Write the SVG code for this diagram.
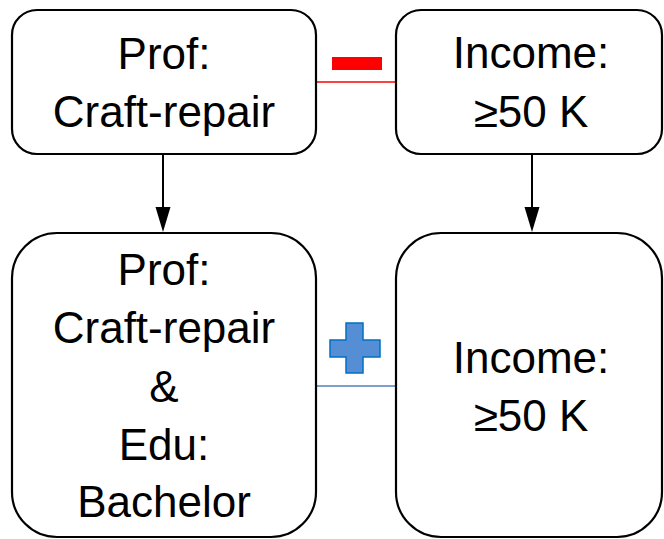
<svg xmlns="http://www.w3.org/2000/svg" width="664" height="539" viewBox="0 0 664 539">
<style>
.box{fill:#fff;stroke:#000;stroke-width:2.2}
.t{font-family:"Liberation Sans",Arial,sans-serif;font-size:44px;fill:#000;text-anchor:middle}
.arr{stroke:#000;stroke-width:2;fill:none}
</style>
<defs>
<marker id="ah" viewBox="0 0 16 25" refX="8" refY="25" markerWidth="16" markerHeight="25" markerUnits="userSpaceOnUse" orient="auto-start-reverse">
<path d="M0,0 L16,0 L8,25 Z" fill="#000"/>
</marker>
</defs>
<rect width="664" height="539" fill="#fff"/>
<g id="connectors">
<line class="arr" x1="163" y1="155" x2="163" y2="207"/>
<path d="M155.5,207 L170.5,207 L163,232 Z" fill="#000"/>
<line class="arr" x1="532" y1="155" x2="532" y2="207"/>
<path d="M524.5,207 L539.5,207 L532,232 Z" fill="#000"/>
<line x1="316" y1="82" x2="396" y2="82" stroke="#ff0000" stroke-width="1.5"/>
<rect x="332" y="57" width="50" height="13" fill="#ff0000"/>
<line x1="316" y1="386" x2="396" y2="386" stroke="#4f81bd" stroke-width="1.5"/>
<path d="M346,323 H363 V340 H380 V357 H363 V373 H346 V357 H330 V340 H346 Z" fill="#558ed5" stroke="#0070c0" stroke-width="1.5"/>
</g>
<g id="n1">
<rect class="box" x="12" y="10" width="304" height="144" rx="25" ry="25"/>
<text class="t" x="164" y="69">Prof:</text>
<text class="t" x="164" y="127">Craft-repair</text>
</g>
<g id="n2">
<rect class="box" x="396" y="10" width="266" height="144" rx="25" ry="25"/>
<text class="t" x="531" y="68">Income:</text>
<text class="t" x="531" y="127">≥50 K</text>
</g>
<g id="n3">
<rect class="box" x="12" y="233" width="304" height="304" rx="45" ry="45"/>
<text class="t" x="164" y="285">Prof:</text>
<text class="t" x="164" y="343">Craft-repair</text>
<text class="t" x="164" y="402">&amp;</text>
<text class="t" x="164" y="460">Edu:</text>
<text class="t" x="164" y="517">Bachelor</text>
</g>
<g id="n4">
<rect class="box" x="396" y="233" width="266" height="304" rx="45" ry="45"/>
<text class="t" x="531" y="373">Income:</text>
<text class="t" x="531" y="431">≥50 K</text>
</g>
</svg>
